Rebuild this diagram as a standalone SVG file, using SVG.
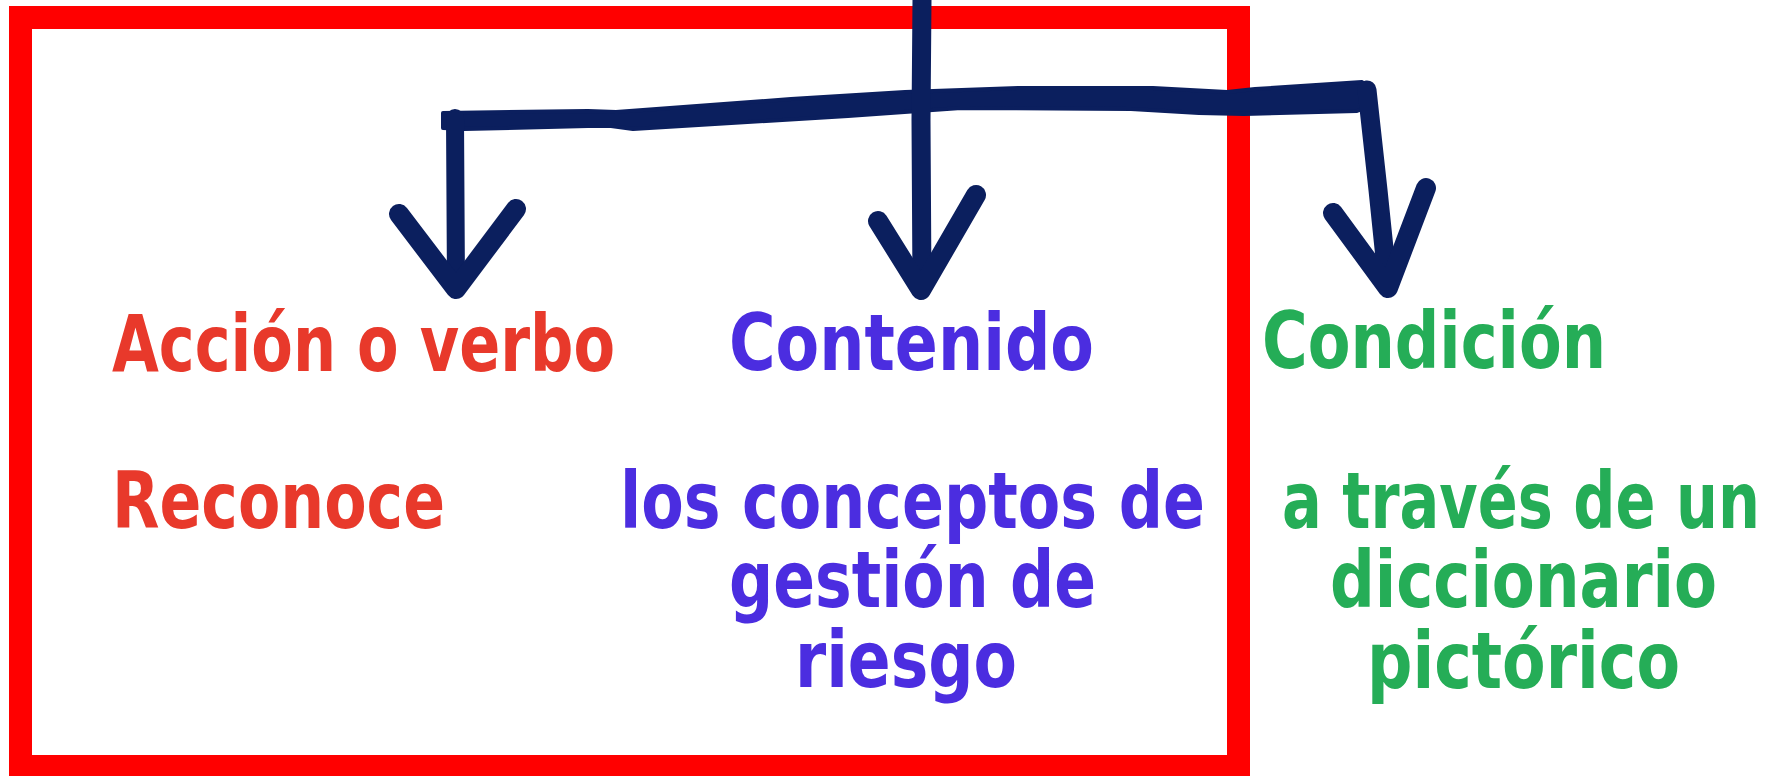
<svg xmlns="http://www.w3.org/2000/svg" width="1773" height="776" viewBox="0 0 1773 776">
<style>
.lbl{font-family:"DejaVu Sans Condensed","Liberation Sans Narrow","Liberation Sans",sans-serif;font-weight:bold;font-size:79px}
.red{fill:#E8392B}
.blue{fill:#4B2DE0}
.green{fill:#25AD57}
.ink{fill:none;stroke:#0B1F5E;stroke-linecap:round;stroke-linejoin:round}
</style>
<rect width="1773" height="776" fill="#FFFFFF"/>
<rect id="frame" x="20.5" y="17.5" width="1218" height="749" fill="none" stroke="#FF0000" stroke-width="23"/>
<g id="connectors">
<path d="M443,113 L588,111 L616,112 L791,99 L905,92 L1018,88 L1153,88 L1227,92 L1255,89 L1362,82 L1372,90 L1370,106 L1357,111 L1244,114 L1199,113 L1131,109 L961,108 L848,116 L633,129 L611,126 L588,126 L464,129 L443,128 Z" fill="#0B1F5E" stroke="#0B1F5E" stroke-width="4" stroke-linejoin="round"/>
<path class="ink" d="M455,118 L456,288" stroke-width="18"/>
<path class="ink" d="M399,214 L456,289 L516,209" stroke-width="20"/>
<path class="ink" d="M922,0 L921,120 L922,288" stroke-width="19"/>
<path class="ink" d="M878,221 L921,290 L976,195" stroke-width="20"/>
<path class="ink" d="M1367,90 L1378,190 L1388,287" stroke-width="19"/>
<path class="ink" d="M1333,213 L1388,288 L1426,188" stroke-width="20"/>
</g>
<g id="accion"><text class="lbl red" x="112" y="371" textLength="503" lengthAdjust="spacingAndGlyphs">Acción o verbo</text></g>
<g id="contenido"><text class="lbl blue" x="729" y="370" textLength="365" lengthAdjust="spacingAndGlyphs">Contenido</text></g>
<g id="condicion"><text class="lbl green" x="1262" y="368" textLength="344" lengthAdjust="spacingAndGlyphs">Condición</text></g>
<g id="reconoce"><text class="lbl red" x="112" y="528" textLength="333" lengthAdjust="spacingAndGlyphs">Reconoce</text></g>
<g id="conceptos">
<text class="lbl blue" x="620" y="528" textLength="585" lengthAdjust="spacingAndGlyphs">los conceptos de</text>
<text class="lbl blue" x="729" y="607" textLength="367" lengthAdjust="spacingAndGlyphs">gestión de</text>
<text class="lbl blue" x="795" y="687" textLength="222" lengthAdjust="spacingAndGlyphs">riesgo</text>
</g>
<g id="diccionario">
<text class="lbl green" x="1282" y="528" textLength="478" lengthAdjust="spacingAndGlyphs">a través de un</text>
<text class="lbl green" x="1330" y="607" textLength="387" lengthAdjust="spacingAndGlyphs">diccionario</text>
<text class="lbl green" x="1367" y="688" textLength="313" lengthAdjust="spacingAndGlyphs">pictórico</text>
</g>
</svg>
